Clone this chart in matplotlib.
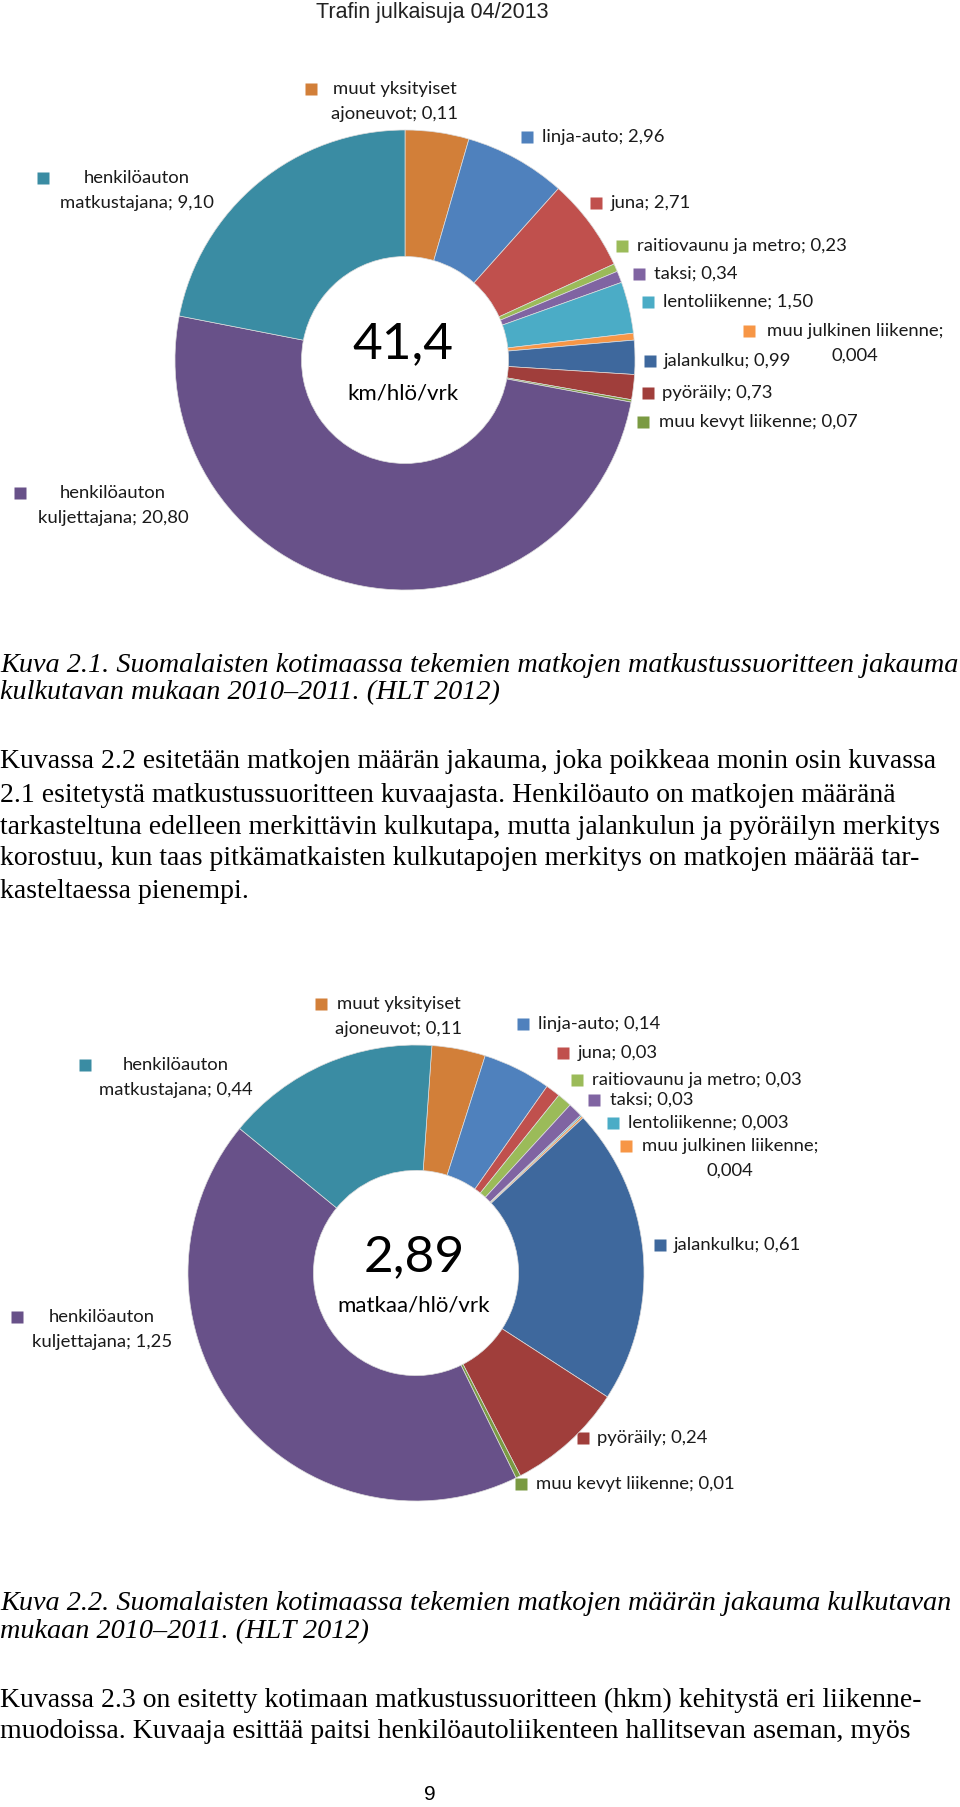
import matplotlib
matplotlib.use("Agg")
import matplotlib.pyplot as plt

# kulkutavat, kellotaulun suuntaan ylhäältä alkaen
modes = ["muut yksityiset ajoneuvot", "linja-auto", "juna", "raitiovaunu ja metro",
         "taksi", "lentoliikenne", "muu julkinen liikenne", "jalankulku", "pyöräily",
         "muu kevyt liikenne", "henkilöauton kuljettajana", "henkilöauton matkustajana"]
colors = ["#D27F39", "#4F81BD", "#C0504D", "#9BBB59", "#8064A2", "#4BACC6",
          "#F79646", "#3E689D", "#A03E3B", "#7A9A42", "#685189", "#3A8CA3"]

# kuva 2.1: matkustussuorite km/hlö/vrk (sektorit luettu kuvasta, tekstit kuten kuvassa)
km_sizes = [1.86, 2.96, 2.71, 0.23, 0.34, 1.50, 0.20, 0.99, 0.73, 0.07, 20.80, 9.10]
km_labels = ["0,11", "2,96", "2,71", "0,23", "0,34", "1,50", "0,004", "0,99", "0,73",
             "0,07", "20,80", "9,10"]
km_total = "41,4"

# kuva 2.2: matkojen määrä matkaa/hlö/vrk
trip_sizes = [0.11, 0.14, 0.03, 0.03, 0.03, 0.003, 0.004, 0.61, 0.24, 0.01, 1.25, 0.44]
trip_labels = ["0,11", "0,14", "0,03", "0,03", "0,03", "0,003", "0,004", "0,61", "0,24",
               "0,01", "1,25", "0,44"]
trip_total = "2,89"

W, H = 960, 1807
fig = plt.figure(figsize=(W / 100, H / 100), dpi=100)
fig.patch.set_facecolor("white")

ov = fig.add_axes([0, 0, 1, 1])
ov.set_xlim(0, W)
ov.set_ylim(H, 0)
ov.axis("off")

SANS = ["Lato", "DejaVu Sans"]
LBL = dict(family=SANS, fontsize=13.3, color="#1a1a1a")


def donut(cx, cy, r, sizes, start, total, unit):
    ax = fig.add_axes([(cx - r) / W, 1 - (cy + r) / H, 2 * r / W, 2 * r / H])
    ax.pie(sizes, colors=colors, startangle=start, counterclock=False, radius=1,
           wedgeprops=dict(width=0.55, edgecolor="#dcdcdc", linewidth=0.5))
    ax.set_xlim(-1, 1)
    ax.set_ylim(-1, 1)
    ax.axis("off")
    ov.text(cx - 2, cy - 16, total, ha="center", va="center", fontsize=37,
            family=SANS, color="black", zorder=5)
    ov.text(cx - 2, cy + 33, unit, ha="center", va="center", fontsize=16,
            family=SANS, color="black", zorder=5)


def labels(vals, layout):
    for i, (mx, my, tx, nfirst) in enumerate(layout):
        ov.plot(mx, my, marker="s", ms=8.5, color=colors[i], mec="none")
        text = f"{modes[i]}; {vals[i]}"
        if nfirst == 0:
            ov.text(tx, my, text, ha="left", va="center", **LBL)
        else:
            words = text.split(" ")
            ov.text(tx, my, " ".join(words[:nfirst]), ha="center", va="center", **LBL)
            ov.text(tx, my + 25, " ".join(words[nfirst:]), ha="center", va="center", **LBL)


# kuva 2.1
donut(405, 360, 230, km_sizes, 90, km_total, "km/hlö/vrk")
labels(km_labels, [
    (311, 89, 395, 2), (527, 137, 542, 0), (596, 203, 611, 0), (622, 246, 637, 0),
    (639, 274, 654, 0), (648, 302, 663, 0), (749, 331, 855, 3), (650, 361, 664, 0),
    (648, 393, 662, 0), (643, 422, 659, 0), (20, 493, 113, 1), (43, 178, 137, 1),
])

# kuva 2.2
donut(416, 1273, 228, trip_sizes, 86, trip_total, "matkaa/hlö/vrk")
labels(trip_labels, [
    (321, 1004, 399, 2), (523, 1024, 538, 0), (563, 1053, 578, 0), (577, 1080, 592, 0),
    (594, 1100, 610, 0), (613, 1123, 628, 0), (626, 1146, 730, 3), (660, 1245, 674, 0),
    (583, 1438, 597, 0), (521, 1484, 536, 0), (17, 1317, 102, 1), (85, 1065, 176, 1),
])

# sivun tekstit
serif = ["Liberation Serif", "DejaVu Serif"]
narrow = ["Liberation Sans Narrow", "Liberation Sans", "DejaVu Sans"]
ov.text(432, 12, "Trafin julkaisuja 04/2013", ha="center", va="center", fontsize=15.5,
        family=narrow, color="#222222")

cap1 = ["Kuva 2.1. Suomalaisten kotimaassa tekemien matkojen matkustussuoritteen jakauma",
        "kulkutavan mukaan 2010–2011. (HLT 2012)"]
for y, s in zip([665, 693], cap1):
    ov.text(0, y, s, ha="left", va="center", fontsize=20.3, style="italic", family=serif)

para1 = ["Kuvassa 2.2 esitetään matkojen määrän jakauma, joka poikkeaa monin osin kuvassa",
         "2.1 esitetystä matkustussuoritteen kuvaajasta. Henkilöauto on matkojen määränä",
         "tarkasteltuna edelleen merkittävin kulkutapa, mutta jalankulun ja pyöräilyn merkitys",
         "korostuu, kun taas pitkämatkaisten kulkutapojen merkitys on matkojen määrää tar-",
         "kasteltaessa pienempi."]
for y, s in zip([762, 795, 827, 858, 891], para1):
    ov.text(0, y, s, ha="left", va="center", fontsize=20, family=serif)

cap2 = ["Kuva 2.2. Suomalaisten kotimaassa tekemien matkojen määrän jakauma kulkutavan",
        "mukaan 2010–2011. (HLT 2012)"]
for y, s in zip([1603, 1632], cap2):
    ov.text(0, y, s, ha="left", va="center", fontsize=20.3, style="italic", family=serif)

para2 = ["Kuvassa 2.3 on esitetty kotimaan matkustussuoritteen (hkm) kehitystä eri liikenne-",
         "muodoissa. Kuvaaja esittää paitsi henkilöautoliikenteen hallitsevan aseman, myös"]
for y, s in zip([1700, 1732], para2):
    ov.text(0, y, s, ha="left", va="center", fontsize=20, family=serif)

ov.text(430, 1794, "9", ha="center", va="center", fontsize=15, family=narrow)

fig.savefig("out.png", dpi=100, facecolor="white")
